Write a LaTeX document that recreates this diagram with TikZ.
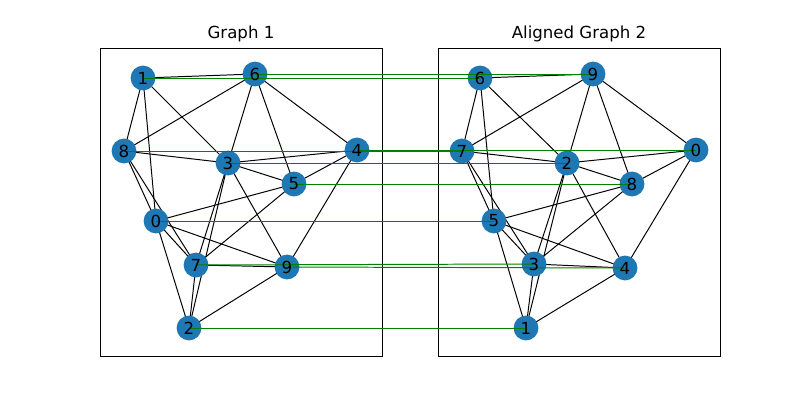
\documentclass[tikz,border=0pt]{standalone}
\usepackage{fontspec}
\setmainfont{DejaVu Sans}
\begin{document}
\begin{tikzpicture}[x=0.025cm,y=-0.025cm,
  e/.style={black,line width=0.7pt},
  m/.style={green!50!black,line width=0.7pt},
  nd/.style={circle,fill={rgb,255:red,31;green,119;blue,180},minimum size=0.62cm,inner sep=0pt},
  lb/.style={font=\fontsize{11.8}{13}\selectfont,inner sep=0pt},
  ax/.style={black,line width=0.6pt}]
\useasboundingbox (0,0) rectangle (800,400);
\fill[white] (0,0) rectangle (800,400);
\draw[ax] (100,48) rectangle (382,356);
\draw[ax] (438,48) rectangle (720,356);
\node[lb] (t1) at (241,34) {Graph 1};
\node[lb] (t2) at (579,34) {Aligned Graph 2};
% graph 1
\foreach \n/\x/\y in {1/143/78,6/255/74,8/124/151,3/228/163,4/357/150,5/294/184,0/156/221,7/196/265,9/287/267,2/189/328}
  \coordinate (a\n) at (\x,\y);
% graph 2
\foreach \n/\x/\y in {6/480/78,9/593/74,7/462/151,2/567/163,0/696/150,8/632/184,5/494/221,3/534/264,4/625/268,1/526/328}
  \coordinate (b\n) at (\x,\y);
\foreach \u/\v in {1/6,1/8,1/0,1/3,6/8,6/3,6/5,6/4,8/3,8/0,8/7,3/4,3/5,3/7,3/9,3/2,4/5,4/9,5/0,5/7,0/7,0/9,0/2,7/9,7/2,2/9}
  \draw[e] (a\u) -- (a\v);
\foreach \u/\v in {6/9,6/7,6/5,6/2,9/7,9/2,9/8,9/0,7/2,7/5,7/3,2/0,2/8,2/3,2/4,2/1,0/8,0/4,8/5,8/3,5/3,5/4,5/1,3/4,3/1,1/4}
  \draw[e] (b\u) -- (b\v);
\foreach \n in {0,...,9} {\node[nd] (na\n) at (a\n) {}; \node[nd] (nb\n) at (b\n) {};}
\foreach \u/\v in {1/6,6/9,8/7,3/2,4/0,5/8,0/5,7/3,9/4,2/1}
  \draw[m] (a\u) -- (b\v);
\foreach \n in {0,...,9} {\node[lb] (la\n) at (a\n) {\n}; \node[lb] (lbb\n) at (b\n) {\n};}
\end{tikzpicture}
\end{document}
